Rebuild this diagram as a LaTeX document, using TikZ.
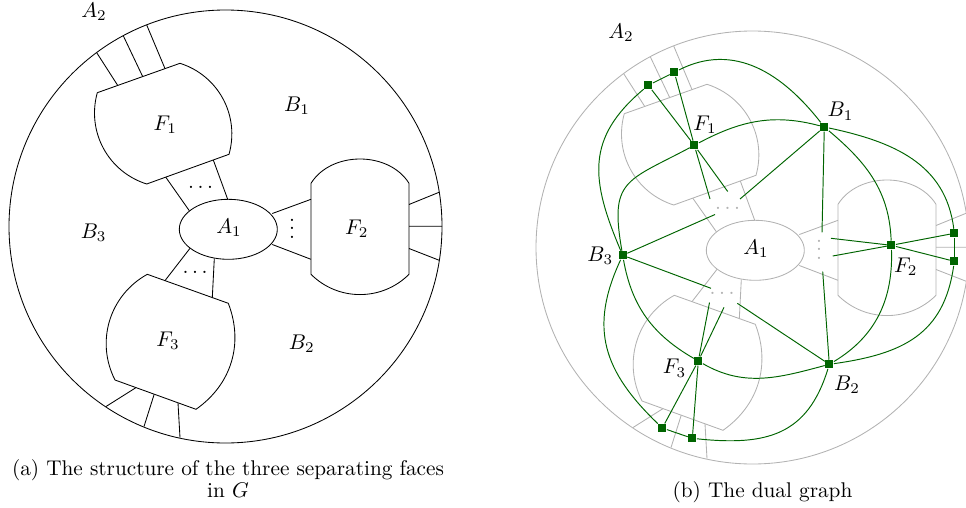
\documentclass[tikz,border=0pt]{standalone}
\usetikzlibrary{shapes.geometric}
\definecolor{dgreen}{RGB}{0,100,0}
\definecolor{lgray}{RGB}{178,178,178}
\tikzset{
  dnode/.style={fill=dgreen, draw=none, rectangle, minimum size=3.9pt, inner sep=0pt},
  dedge/.style={dgreen, line width=0.45pt},
  lbl/.style={inner sep=1pt},
  dotsnode/.style={inner sep=0pt, anchor=base},
}
\newcommand\myvdots{\vbox{\baselineskip4pt\lineskiplimit0pt\hbox{.}\hbox{.}\hbox{.}}}
% primal structure: #1 = line colour, #2 = name prefix
\newcommand\primalpic[2]{%
  \draw[#1] (225.5,226.5) circle[radius=101.755pt];
  \draw[#1] (228.3,229.3) ellipse[x radius=23.03pt, y radius=14.1pt];
  % F1
  \draw[#1] (97.3,92.7) -- (180,63.3) to[bend left=44] (229,154.3) -- (146.7,184)
     to[bend left=44] (97.3,92.7) -- cycle;
  % F2
  \draw[#1] (311,274.3) -- (311,183.3) to[bend left=58] (409,183.3) -- (409,274.3)
     to[bend left=45] (311,274.3) -- cycle;
  % F3
  \draw[#1] (147.3,274.3) -- (228.3,303.3) to[bend left=38] (196,409.3) -- (115,380)
     to[bend left=44] (147.3,274.3) -- cycle;
  % connectors
  \draw[#1] (117.7,85.4)--(96.7,52.7) (142.7,76.6)--(123.3,35.8) (165,68.6)--(146.7,25);
  \draw[#1] (165.7,177.1)--(189.3,210.7) (213.3,160)--(227.7,199.3);
  \draw[#1] (272.3,213.5)--(311,199.3) (272.3,244.5)--(311,259.3);
  \draw[#1] (409,204.5)--(439,192.3) (409,226.2)--(442,226.2) (409,248.5)--(439,260.2);
  \draw[#1] (165,280.6)--(190,248.3) (212.3,297.6)--(214.3,258.5);
  \draw[#1] (136,387.6)--(106,406.5) (154.2,394.2)--(144,426.5) (178,403)--(180,437.7);
  % dots
  \node[dotsnode, text=#1] (#2dotsA) at (200.5,188) {.\kern1.67pt.\kern1.67pt.};
  \node[dotsnode, text=#1] (#2dotsB) at (195,273) {.\kern1.67pt.\kern1.67pt.};
  \node[dotsnode, text=#1] (#2dotsC) at (292,238.2) {\myvdots};
  % labels
  \node[lbl] (#2A1) at (229,228) {$A_1$};
  \node[lbl] (#2A2) at (94,12) {$A_2$};
}
\begin{document}
\begin{tikzpicture}[x=0.47pt,y=-0.47pt]
\useasboundingbox (0,0) rectangle (966,507);

% ---------- (a) ----------
\primalpic{black}{l}
\node[lbl] (lB1) at (297,106) {$B_1$};
\node[lbl] (lB2) at (301.7,344) {$B_2$};
\node[lbl] (lB3) at (93.7,232.7) {$B_3$};
\node[lbl] (lF1) at (165.3,124.7) {$F_1$};
\node[lbl] (lF2) at (356.7,229) {$F_2$};
\node[lbl] (lF3) at (168,341) {$F_3$};

% ---------- (b) ----------
\begin{scope}[shift={(527,21)}]
  \primalpic{lgray}{r}
\end{scope}

% dual vertices
\node[dnode] (B1) at (824.3,127) {};
\node[dnode] (B2) at (829.3,364.3) {};
\node[dnode] (B3) at (622.7,255.3) {};
\node[dnode] (F1) at (694.3,145.3) {};
\node[dnode] (F2) at (891.3,245.3) {};
\node[dnode] (F3) at (698.3,361) {};
\node[dnode] (a1) at (648.3,85.3) {};
\node[dnode] (a2) at (674.3,72.3) {};
\node[dnode] (c1) at (954.3,233.3) {};
\node[dnode] (c2) at (954.3,261.3) {};
\node[dnode] (d1) at (662.3,428) {};
\node[dnode] (d2) at (692.3,438.3) {};

% dual labels
\node[lbl] (tB1) at (840.5,111.3) {$B_1$};
\node[lbl] (tB2) at (847,384.7) {$B_2$};
\node[lbl] (tB3) at (600.3,255.7) {$B_3$};
\node[lbl] (tF1) at (705,124.5) {$F_1$};
\node[lbl] (tF2) at (905.8,266.7) {$F_2$};
\node[lbl] (tF3) at (674.5,368.3) {$F_3$};

% free ends of half edges
\coordinate (p1) at (710,199);
\coordinate (p2) at (727.7,191.5);
\coordinate (p3) at (740,199);
\coordinate (p4) at (715,214.5);
\coordinate (q1) at (822,232.3);
\coordinate (q2) at (822.7,271.7);
\coordinate (q3) at (831,238.3);
\coordinate (q4) at (832.7,256);
\coordinate (r1) at (709.5,302.5);
\coordinate (r2) at (724,307.3);
\coordinate (r3) at (711,288.3);
\coordinate (r4) at (737.3,303.3);

% dual edges
\draw[dedge] (a1) -- (a2);
\draw[dedge] (a1) -- (F1);
\draw[dedge] (a2) -- (F1);
\draw[dedge] (a2) to[out=27,in=128,looseness=1.05] (B1);
\draw[dedge] (a1) to[out=220,in=113,looseness=1.2] (B3);
\draw[dedge] (F1) to[out=28,in=165] (B1);
\draw[dedge] (F1) to[out=208,in=100,looseness=1.5] (B3);
\draw[dedge] (B3) to[out=280,in=150] (F3);
\draw[dedge] (F3) to[out=-30,in=195] (B2);
\draw[dedge] (B3) to[out=245,in=136,looseness=1.15] (d1);
\draw[dedge] (d1) -- (d2);
\draw[dedge] (d2) to[out=-6,in=-107,looseness=1.2] (B2);
\draw[dedge] (B1) to[out=-40,in=92] (F2);
\draw[dedge] (F2) to[out=272,in=31] (B2);
\draw[dedge] (B1) to[out=-12,in=97,looseness=1.05] (c1);
\draw[dedge] (c1) -- (c2);
\draw[dedge] (c2) to[out=262,in=8,looseness=1.15] (B2);
\draw[dedge] (F2) -- (c1);
\draw[dedge] (F2) -- (c2);
\draw[dedge] (F3) -- (d1);
\draw[dedge] (F3) -- (d2);
\draw[dedge] (F1) -- (p1);
\draw[dedge] (F1) -- (p2);
\draw[dedge] (B1) -- (p3);
\draw[dedge] (B3) -- (p4);
\draw[dedge] (B1) -- (q1);
\draw[dedge] (B2) -- (q2);
\draw[dedge] (F2) -- (q3);
\draw[dedge] (F2) -- (q4);
\draw[dedge] (F3) -- (r1);
\draw[dedge] (F3) -- (r2);
\draw[dedge] (B3) -- (r3);
\draw[dedge] (B2) -- (r4);

% captions
\node[anchor=base] (capa1) at (228,475) {(a) The structure of the three separating faces};
\node[anchor=base] (capa2) at (228,497) {in $G$};
\node[anchor=base] (capb) at (762.5,497) {(b) The dual graph};
\end{tikzpicture}
\end{document}
